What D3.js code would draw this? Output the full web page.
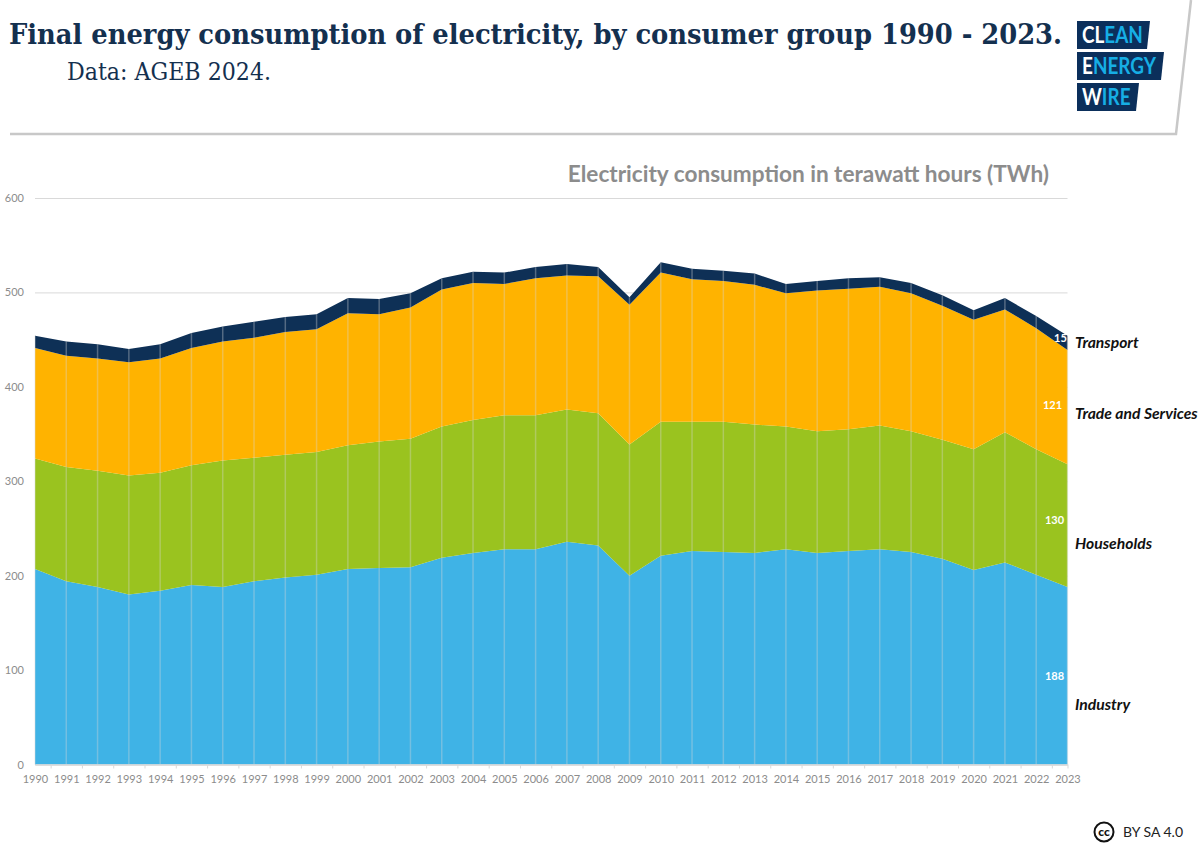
<!DOCTYPE html>
<html>
<head>
<meta charset="utf-8">
<script src="https://cdnjs.cloudflare.com/ajax/libs/d3/7.8.5/d3.min.js"></script>
<style>
  html, body { margin: 0; padding: 0; background: #fff; }
  svg { display: block; }
  text { font-family: Lato, "Open Sans", sans-serif; }
  .title { font-family: "DejaVu Serif Condensed", "DejaVu Serif", serif; fill: #14304f; }
  .tick text { fill: #8c8c8c; font-size: 11px; }
</style>
</head>
<body>
<div id="chart"></div>
<script>
const years = d3.range(1990, 2024);
const yTicks = [0, 100, 200, 300, 400, 500, 600];

const industry = [207,194,188,180,184,190,188,194,198,201,207,208,209,219,224,228,228,236,232,200,221,226,225,224,228,224,226,228,225,218,206,214,201,188];
const households = [117,121,123,126,125,127,134,131,130,130,131,134,136,139,141,142,142,140,140,139,142,137,138,136,130,129,129,131,128,126,128,138,133,130];
const trade = [117,118,119,120,121,124,126,127,130,130,140,135,139,145,145,139,145,142,145,148,158,151,149,148,141,149,149,147,146,142,137,130,128,121];
const transport = [13,15,15,14,15,16,16,17,16,16,16,16,15,12,12,12,12,12,10,8,11,11,11,12,10,10,11,10,11,11,10,12,13,15];

const seriesNames = ['Industry', 'Households', 'Trade and Services', 'Transport'];
const seriesValues = [industry, households, trade, transport];
const seriesColors = ['#3fb3e6', '#9ac31f', '#ffb300', '#0e3056'];

const w = 1200, h = 848;
const svg = d3.select('#chart').append('svg').attr('width', w).attr('height', h);

// header panel with the slanted right edge
svg.append('path')
	.attr('d', 'M10,134 L1176,134 L1191,0')
	.attr('fill', 'none')
	.attr('stroke', '#c8c8c8')
	.attr('stroke-width', 2.5);

svg.append('text').attr('class', 'title')
	.attr('x', 9).attr('y', 44)
	.attr('font-size', 28).attr('font-weight', 700)
	.attr('textLength', 1053).attr('lengthAdjust', 'spacingAndGlyphs')
	.text('Final energy consumption of electricity, by consumer group 1990 - 2023.');
svg.append('text').attr('class', 'title')
	.attr('x', 67).attr('y', 80)
	.attr('font-size', 23.5)
	.attr('textLength', 204).attr('lengthAdjust', 'spacingAndGlyphs')
	.text('Data: AGEB 2024.');

// logo
const logoRows = [
	{ y: 21, r: 1150, a: 'CL', b: 'EAN' },
	{ y: 52, r: 1164, a: 'E', b: 'NERGY' },
	{ y: 83, r: 1139, a: 'W', b: 'IRE' }
];
logoRows.forEach(row => {
	svg.append('path')
		.attr('d', `M1077,${row.y} H${row.r} L${row.r - 3},${row.y + 28} H1077 Z`)
		.attr('fill', '#0b2f5b');
	const t = svg.append('text')
		.attr('transform', `translate(1082,${row.y + 22}) scale(0.86,1)`)
		.attr('font-size', 22).attr('font-weight', 700);
	t.append('tspan').attr('fill', '#fff').text(row.a);
	t.append('tspan').attr('fill', '#16aee5').text(row.b);
});

// chart
const x = d3.scaleLinear().domain([1990, 2023]).range([35, 1067.5]);
const y = d3.scaleLinear().domain([0, 600]).range([764.5, 198]);

svg.append('text')
	.attr('x', 1049).attr('y', 182)
	.attr('text-anchor', 'end')
	.attr('font-size', 22.6).attr('font-weight', 700)
	.attr('fill', '#8c8c8c')
	.text('Electricity consumption in terawatt hours (TWh)');

const yAxis = svg.append('g')
	.attr('transform', 'translate(35,0)')
	.call(d3.axisLeft(y).tickValues(yTicks).tickSize(0).tickPadding(11));
yAxis.select('.domain').remove();
yAxis.selectAll('.tick line')
	.attr('x2', x.range()[1] - x.range()[0])
	.attr('stroke', '#d9d9d9')
	.attr('stroke-width', 1);

const rows = years.map((year, i) => {
	const row = { year };
	seriesNames.forEach((name, s) => { row[name] = seriesValues[s][i]; });
	return row;
});
const stacked = d3.stack().keys(seriesNames)(rows);

const area = d3.area()
	.x(d => x(d.data.year))
	.y0(d => y(d[0]))
	.y1(d => y(d[1]));

svg.append('g').selectAll('path')
	.data(stacked)
	.enter()
	.append('path')
	.attr('d', area)
	.attr('fill', (d, i) => seriesColors[i]);

// drop lines over the areas
const topLayer = stacked[stacked.length - 1];
svg.append('g').selectAll('line')
	.data(topLayer)
	.enter()
	.append('line')
	.attr('x1', d => x(d.data.year))
	.attr('x2', d => x(d.data.year))
	.attr('y1', d => y(d[1]))
	.attr('y2', y(0))
	.attr('stroke', '#d8d8d8')
	.attr('stroke-opacity', 0.35)
	.attr('stroke-width', 1.5);

// year labels, tick marks sit between the years
const xAxis = svg.append('g')
	.attr('transform', `translate(0,${y(0)})`)
	.call(d3.axisBottom(x).tickValues(years).tickFormat(d3.format('d')).tickSize(0).tickPadding(11));
xAxis.select('.domain').attr('stroke', '#d9d9d9').attr('stroke-width', 1.5);

const xMarks = svg.append('g')
	.attr('transform', `translate(0,${y(0)})`)
	.call(d3.axisBottom(x).tickValues(years.slice(0, -1).map(d => d + 0.5).concat(2023)).tickFormat('').tickSize(4));
xMarks.select('.domain').remove();
xMarks.selectAll('.tick line').attr('stroke', '#d9d9d9');

// end labels
const lastIndex = years.length - 1;
const valueNudge = [[-13, 0], [-13, -5], [-15, -2], [-7, -5]];
stacked.forEach((layer, s) => {
	const d = layer[lastIndex];
	svg.append('text')
		.attr('x', x(2023) + valueNudge[s][0])
		.attr('y', y((d[0] + d[1]) / 2) + valueNudge[s][1])
		.attr('dy', '0.35em')
		.attr('text-anchor', 'middle')
		.attr('font-size', 11).attr('font-weight', 700)
		.attr('fill', '#fff')
		.text(d[1] - d[0]);
});

const nameY = [705, 544, 414, 343];
seriesNames.forEach((name, s) => {
	svg.append('text')
		.attr('x', 1075).attr('y', nameY[s])
		.attr('dy', '0.35em')
		.attr('font-size', 15.7).attr('font-weight', 700).attr('font-style', 'italic')
		.attr('fill', '#111')
		.text(name);
});

// licence mark
svg.append('circle')
	.attr('cx', 1104).attr('cy', 832).attr('r', 9.5)
	.attr('fill', 'none').attr('stroke', '#111').attr('stroke-width', 2);
svg.append('text')
	.attr('x', 1104).attr('y', 836)
	.attr('text-anchor', 'middle')
	.attr('font-size', 12).attr('font-weight', 900)
	.attr('fill', '#111')
	.text('cc');
svg.append('text')
	.attr('x', 1123).attr('y', 837)
	.attr('font-family', '"Open Sans", sans-serif')
	.attr('font-size', 14)
	.attr('fill', '#222')
	.text('BY SA 4.0');
</script>
</body>
</html>
